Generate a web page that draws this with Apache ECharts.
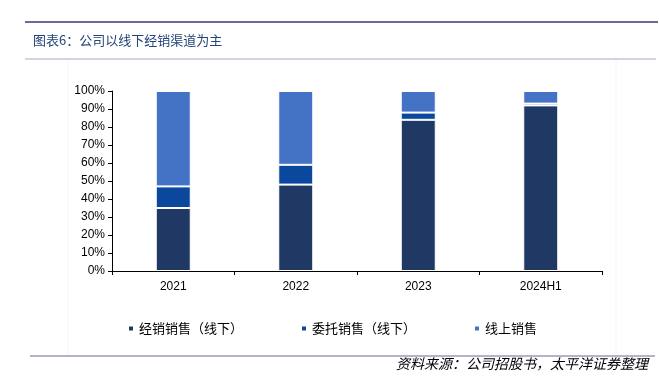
<!DOCTYPE html>
<html><head><meta charset="utf-8">
<script src="https://cdn.jsdelivr.net/npm/echarts@6/dist/echarts.min.js"></script>
<style>html,body{margin:0;padding:0;background:#fff}#c{width:659px;height:385px}</style>
</head><body><div id="c"></div>
<script>
const categories = ['2021', '2022', '2023', '2024H1'];
const seriesNames = ['经销销售（线下）', '委托销售（线下）', '线上销售'];
const distributor = [35, 48, 84, 92];
const consignment = [12, 11, 4, 1];
const online = [53, 41, 12, 7];
const yTicks = [0, 10, 20, 30, 40, 50, 60, 70, 80, 90, 100];
const colors = ['#203864', '#0b479c', '#4472c4'];
const titleText = '图表6：公司以线下经销渠道为主';
const sourceText = '资料来源：公司招股书，太平洋证券整理';

const chart = echarts.init(document.getElementById('c'));
const cjk = '"Noto Sans CJK SC", sans-serif';
const values = [distributor, consignment, online];
chart.setOption({
  animation: false,
  grid: {left: 112, right: 57, top: 91, bottom: 114, containLabel: false},
  legend: {
    top: 317, left: 122, itemWidth: 6, itemHeight: 6, itemGap: 57,
    icon: 'rect',
    textStyle: {fontFamily: cjk, fontSize: 13, color: '#000'},
    data: seriesNames
  },
  xAxis: {
    type: 'category', data: categories,
    axisLine: {lineStyle: {color: '#000', width: 1}},
    axisTick: {show: true, alignWithLabel: false, length: 4, lineStyle: {color: '#000'}},
    axisLabel: {fontFamily: 'Arial, "Liberation Sans", sans-serif', fontSize: 12, color: '#000', margin: 10}
  },
  yAxis: {
    type: 'value', min: yTicks[0], max: yTicks[yTicks.length - 1], interval: 10,
    axisLine: {show: true, lineStyle: {color: '#000'}},
    axisTick: {show: true, length: 4, lineStyle: {color: '#000'}},
    splitLine: {show: false},
    axisLabel: {formatter: '{value}%', fontFamily: 'Arial, "Liberation Sans", sans-serif', fontSize: 12, color: '#000', margin: 7}
  },
  series: seriesNames.map((n, i) => ({
    name: n, type: 'bar', stack: 'total', data: values[i], barWidth: 35,
    itemStyle: {color: colors[i], borderColor: '#fff', borderWidth: 1}
  })),
  graphic: [
    {type: 'line', shape: {x1: 25, y1: 22, x2: 658, y2: 22}, style: {stroke: '#6b6b99', lineWidth: 2}},
    {type: 'text', left: 33, top: 34, style: {text: titleText, font: '13px ' + cjk, fill: '#24457a'}},
    {type: 'line', shape: {x1: 25, y1: 59, x2: 656, y2: 59}, style: {stroke: '#c4c4dc', lineWidth: 1.5}},
    {type: 'line', shape: {x1: 68, y1: 60, x2: 68, y2: 354}, style: {stroke: '#f4f4f4', lineWidth: 1}},
    {type: 'line', shape: {x1: 616, y1: 60, x2: 616, y2: 354}, style: {stroke: '#f4f4f4', lineWidth: 1}},
    {type: 'line', shape: {x1: 30, y1: 356, x2: 655, y2: 356}, style: {stroke: '#9a9ac2', lineWidth: 1.5}},
    {type: 'text', right: 11, top: 357, style: {text: sourceText, font: 'italic 14px ' + cjk, fill: '#000'}}
  ]
});
</script></body></html>
